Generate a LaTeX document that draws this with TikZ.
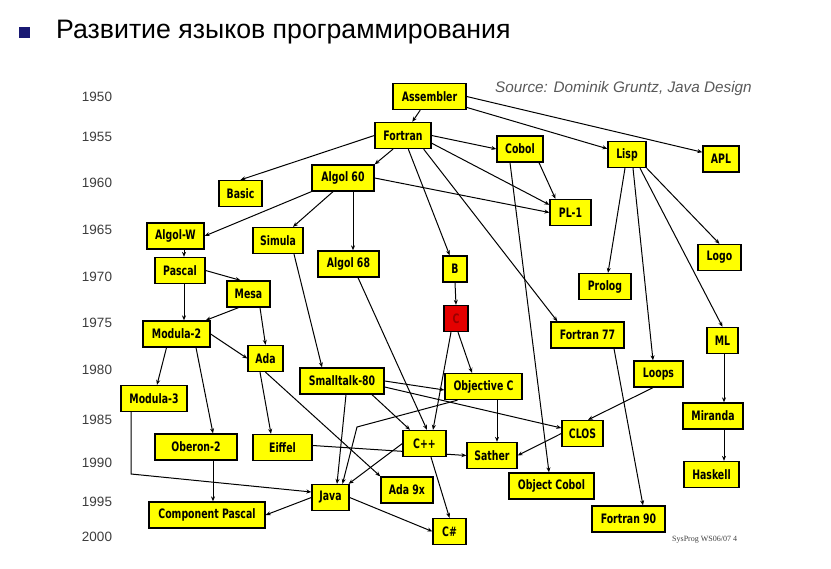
\documentclass[tikz,border=0pt]{standalone}
\usepackage{fontspec}
\setmainfont{Liberation Sans}
\newfontfamily\boxfont{DejaVu Sans Condensed}[FakeStretch=0.8]
\newfontfamily\notefont{Liberation Serif}
\usetikzlibrary{arrows.meta,backgrounds}
\definecolor{langyellow}{RGB}{255,255,0}
\definecolor{langred}{RGB}{228,0,0}
\definecolor{bulletblue}{RGB}{25,25,115}
\definecolor{yeargray}{RGB}{60,60,60}
\tikzset{
  lang/.style={draw=black,line width=1.3pt,fill=langyellow,font=\boxfont\bfseries\fontsize{13}{14}\selectfont,inner sep=1pt,minimum height=26pt},
  year/.style={font=\fontsize{13.5}{14}\selectfont,text=yeargray},
  link/.style={line width=1pt,-{Stealth[length=5pt,width=4pt]}}
}
\begin{document}
\begin{tikzpicture}[x=1pt,y=-1pt]
	    \useasboundingbox (0,0) rectangle (831,569);
	    \node[fill=bulletblue,minimum size=11pt,inner sep=0pt] (bullet) at (24,32.5) {};
	    \node[anchor=base west,inner sep=0pt,font=\fontsize{26.7}{28}\selectfont] (title) at (56,39) {Развитие языков программирования};
	    \node[anchor=base west,inner sep=0pt,font=\itshape\fontsize{15.3}{17}\selectfont,text=black!65] (source) at (495,92.5) {Source: Dominik Gruntz, Java Design};
	    \node[anchor=base west,inner sep=0pt,font=\notefont\fontsize{8}{9}\selectfont,text=black!75] (sysprog) at (672,542) {SysProg WS06/07 4};
	    
	    \node[year] (y1950) at (97,97) {1950};
	    \node[year] (y1955) at (97,137) {1955};
	    \node[year] (y1960) at (97,183) {1960};
	    \node[year] (y1965) at (97,230) {1965};
	    \node[year] (y1970) at (97,277) {1970};
	    \node[year] (y1975) at (97,323) {1975};
	    \node[year] (y1980) at (97,370) {1980};
	    \node[year] (y1985) at (97,420) {1985};
	    \node[year] (y1990) at (97,463) {1990};
	    \node[year] (y1995) at (97,502) {1995};
	    \node[year] (y2000) at (97,537) {2000};
	    
	    \node[lang,minimum width=73pt] (asm) at (429.5,96.5) {Assembler};
	    \node[lang,minimum width=56pt] (fortran) at (403,135.5) {Fortran};
	    \node[lang,minimum width=43pt] (basic) at (240.5,193.5) {Basic};
	    \node[lang,minimum width=62pt] (algol60) at (343,178) {Algol 60};
	    \node[lang,minimum width=57pt] (algolw) at (175.5,236) {Algol-W};
	    \node[lang,minimum width=50pt] (simula) at (278,240.5) {Simula};
	    \node[lang,minimum width=61pt] (algol68) at (348.5,264) {Algol 68};
	    \node[lang,minimum width=50pt] (pascal) at (180,270.5) {Pascal};
	    \node[lang,minimum width=43pt] (mesa) at (248.5,294) {Mesa};
	    \node[lang,minimum width=46pt] (cobol) at (520,149) {Cobol};
	    \node[lang,minimum width=38pt] (lisp) at (627,154.5) {Lisp};
	    \node[lang,minimum width=36pt] (apl) at (721,159) {APL};
	    \node[lang,minimum width=41pt] (pl1) at (570.5,212.5) {PL-1};
	    \node[lang,minimum width=43pt] (logo) at (719.5,257.5) {Logo};
	    \node[lang,minimum width=24pt] (b) at (455,269) {B};
	    \node[lang,minimum width=52pt] (prolog) at (605,286.5) {Prolog};
	    \node[lang,minimum width=24pt,fill=langred,text=red!60!black] (c) at (456,318.5) {C};
	    \node[lang,minimum width=67pt] (modula2) at (176.5,334) {Modula-2};
	    \node[lang,minimum width=35pt] (ada) at (265.5,358.5) {Ada};
	    \node[lang,minimum width=73pt] (fortran77) at (587.5,335) {Fortran 77};
	    \node[lang,minimum width=31pt] (ml) at (722.5,340.5) {ML};
	    \node[lang,minimum width=84pt] (smalltalk) at (342,381) {Smalltalk-80};
	    \node[lang,minimum width=77pt] (objc) at (483.5,386.5) {Objective C};
	    \node[lang,minimum width=49pt] (loops) at (658.5,374) {Loops};
	    \node[lang,minimum width=66pt] (modula3) at (154,398.5) {Modula-3};
	    \node[lang,minimum width=60pt] (miranda) at (713,416) {Miranda};
	    \node[lang,minimum width=41pt] (clos) at (582.5,433.5) {CLOS};
	    \node[lang,minimum width=82pt] (oberon2) at (196,447) {Oberon-2};
	    \node[lang,minimum width=59pt] (eiffel) at (282.5,447.5) {Eiffel};
	    \node[lang,minimum width=43pt] (cpp) at (424.5,443.5) {C++};
	    \node[lang,minimum width=50pt] (sather) at (492,455.5) {Sather};
	    \node[lang,minimum width=55pt] (haskell) at (711.5,474.5) {Haskell};
	    \node[lang,minimum width=85pt] (objcobol) at (551.5,486) {Object Cobol};
	    \node[lang,minimum width=52pt] (ada9x) at (407,490) {Ada 9x};
	    \node[lang,minimum width=37pt] (java) at (330.5,497.5) {Java};
	    \node[lang,minimum width=116pt] (cpascal) at (207,515) {Component Pascal};
	    \node[lang,minimum width=73pt] (fortran90) at (628.5,519) {Fortran 90};
	    \node[lang,minimum width=33pt] (csharp) at (449.5,531.5) {C\#};
	    
	    \coordinate (objcbend) at (357,427);
	    \coordinate (modula3bend) at (131,474);
	    
	    \begin{pgfonlayer}{background}
	    % 1950s
	    \draw[link] (asm) -- (fortran);
	    \draw[link] (asm) -- (lisp);
	    \draw[link] (asm.east) -- (apl.160);
	    \draw[link] (fortran.west) -- (basic.north);
	    \draw[link] ([xshift=-10pt]fortran.south) -- (algol60.north east);
	    \draw[link] (fortran.east) -- (cobol.west);
	    \draw[link] (fortran.-15) -- (pl1.160);
	    \draw[link] (fortran) -- (b);
	    \draw[link] ([xshift=-8pt]fortran.south east) -- ([xshift=7pt]fortran77.north west);
	    \draw[link] (algol60.east) -- (pl1.west);
	    \draw[link] (algol60.south west) -- (algolw.east);
	    \draw[link] ([xshift=-10pt]algol60.south) -- ([xshift=15pt]simula.north);
	    \draw[link] ([xshift=10pt]algol60.south) -- ([xshift=4.5pt]algol68.north);
	    \draw[link] ([xshift=19pt]cobol.south) -- ([xshift=-15pt]pl1.north);
	    \draw[link] ([xshift=-10pt]cobol.south) -- ([xshift=-2.5pt]objcobol.north);
	    \draw[link] ([xshift=-2pt]lisp.south) -- ([xshift=3pt]prolog.north);
	    \draw[link] ([xshift=6pt]lisp.south) -- ([xshift=-5.5pt]loops.north);
	    \draw[link] ([xshift=13pt]lisp.south) -- (ml.north);
	    \draw[link] (lisp.south east) -- (logo.north);
	    % 1960s-1970s
	    \draw[link] ([xshift=8.5pt]algolw.south) -- ([xshift=4pt]pascal.north);
	    \draw[link] (pascal.east) -- ([xshift=-8pt]mesa.north);
	    \draw[link] ([xshift=4pt]pascal.south) -- ([xshift=7.5pt]modula2.north);
	    \draw[link] ([xshift=-10pt]mesa.south) -- ([xshift=-5pt]modula2.north east);
	    \draw[link] ([xshift=11.5pt]mesa.south) -- (ada.north);
	    \draw[link] (modula2.east) -- (ada.west);
	    \draw[link] ([xshift=-10pt]modula2.south) -- ([xshift=3pt]modula3.north);
	    \draw[link] ([xshift=19.5pt]modula2.south) -- ([xshift=17pt]oberon2.north);
	    \draw[link] ([xshift=16pt]simula.south) -- ([xshift=-20pt]smalltalk.north);
	    \draw[link] ([xshift=9.5pt]algol68.south) -- ([xshift=2.5pt]cpp.north);
	    \draw[link] (b.south) -- (c.north);
	    \draw[link] ([xshift=2pt]c.south) -- ([xshift=-11.5pt]objc.north);
	    \draw[link] ([xshift=-5pt]c.south) -- ([xshift=8.5pt]cpp.north);
	    % 1980s-1990s
	    \draw[link] (smalltalk.east) -- ([yshift=-3.5pt]objc.west);
	    \draw[link] ([yshift=-6pt]smalltalk.east) -- ([yshift=5.5pt]clos.west);
	    \draw[link] ([xshift=30pt]smalltalk.south) -- ([xshift=-14.5pt]cpp.north);
	    \draw[link] ([xshift=4pt]smalltalk.south) -- ([xshift=6.5pt]java.north);
	    \draw[link] ([xshift=13.5pt]objc.south) -- ([xshift=5pt]sather.north);
	    \draw[link] ([xshift=-26pt]objc.south) -- (objcbend) -- ([xshift=12pt]java.north);
	    \draw[link] (clos.west) -- (sather.east);
	    \draw[link] ([xshift=-5.5pt]loops.south) -- ([xshift=5.5pt]clos.north);
	    \draw[link] ([yshift=2pt]eiffel.east) -- (sather.west);
	    \draw[link] (cpp.west) -- ([xshift=-1pt]java.north east);
	    \draw[link] ([xshift=6.5pt]cpp.south) -- (csharp.north);
	    \draw[link] ([xshift=-5.5pt]ada.south) -- ([xshift=-11.5pt]eiffel.north);
	    \draw[link] (ada.south) -- (ada9x.north west);
	    \draw[link] ([xshift=-23pt]modula3.south) -- (modula3bend) -- ([yshift=5.5pt]java.west);
	    \draw[link] ([xshift=17pt]oberon2.south) -- ([xshift=6pt]cpascal.north);
	    \draw[link] (java.west) -- (cpascal.east);
	    \draw[link] (java.east) -- (csharp.west);
	    \draw[link] ([xshift=26.5pt]fortran77.south) -- ([xshift=14.5pt]fortran90.north);
	    \draw[link] ([xshift=1.5pt]ml.south) -- ([xshift=11pt]miranda.north);
	    \draw[link] ([xshift=11pt]miranda.south) -- ([xshift=12.5pt]haskell.north);
	    \end{pgfonlayer}
\end{tikzpicture}
\end{document}
